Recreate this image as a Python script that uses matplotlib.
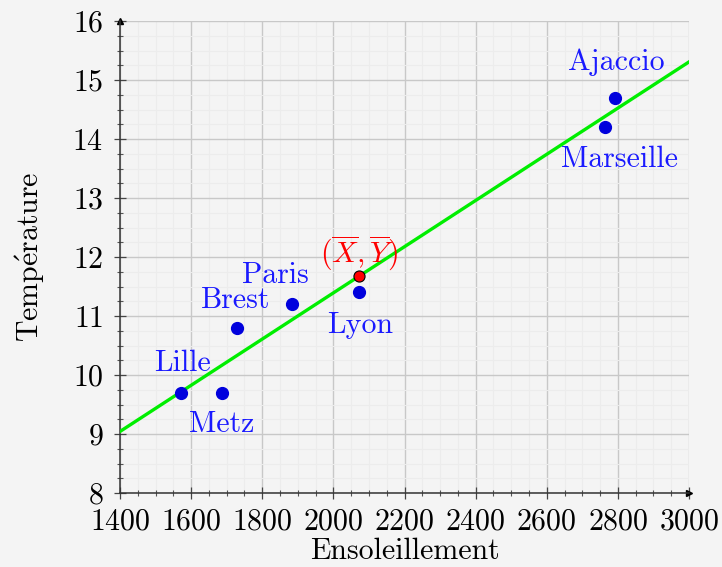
import matplotlib.pyplot as plt
import numpy as np
from matplotlib.ticker import MultipleLocator

plt.rcParams['font.family'] = ['cmr10', 'DejaVu Serif']
plt.rcParams['mathtext.fontset'] = 'cm'
plt.rcParams['axes.formatter.use_mathtext'] = True

# ensoleillement (h/an) et temperature moyenne
villes = ['Lille', 'Metz', 'Brest', 'Paris', 'Lyon', 'Marseille', 'Ajaccio']
soleil = [1572, 1687, 1729, 1884, 2072, 2764, 2792]
temp = [9.7, 9.7, 10.8, 11.2, 11.4, 14.2, 14.7]
# decalage des etiquettes (pixels)
decal = [(1, 29), (0, -32), (-1, 28), (-17, 29), (1, -33), (14, -32), (1, 35)]

x = np.array(soleil)
y = np.array(temp)
a, b = np.polyfit(x, y, 1)
xm, ym = x.mean(), y.mean()

fs = 21.5
bg = '#f4f4f4'
fig = plt.figure(figsize=(7.22, 5.67), dpi=100, facecolor=bg)
ax = fig.add_axes([120/722, 74/567, 569/722, 472/567])
ax.set_facecolor(bg)

ax.set_xlim(1400, 3000)
ax.set_ylim(8, 16)
ax.xaxis.set_major_locator(MultipleLocator(200))
ax.xaxis.set_minor_locator(MultipleLocator(50))
ax.yaxis.set_major_locator(MultipleLocator(1))
ax.yaxis.set_minor_locator(MultipleLocator(0.25))
ax.grid(which='major', color='#c8c8c8', lw=1.0)
ax.grid(which='minor', color='#ececec', lw=0.8)
ax.set_axisbelow(True)

for s in ['top', 'right']:
    ax.spines[s].set_visible(False)
for s in ['left', 'bottom']:
    ax.spines[s].set_color('#333333')
    ax.spines[s].set_linewidth(1.1)
ax.tick_params(which='major', direction='inout', length=8, width=0.9, labelsize=fs, colors='#444444', labelcolor='black')
ax.tick_params(axis='x', which='major', pad=7)
ax.tick_params(axis='y', which='major', pad=8)
ax.tick_params(which='minor', direction='inout', length=5, width=0.8, colors='#555555')
ax.plot(1, 0, '>', color='black', ms=5, transform=ax.transAxes, clip_on=False)
ax.plot(0, 1, '^', color='black', ms=5, transform=ax.transAxes, clip_on=False)

xx = np.array([1400, 3000])
ax.plot(xx, a * xx + b, color='#00ee00', lw=2.4, zorder=3)
ax.plot(x, y, 'o', color='#0000dd', ms=8.5, zorder=4)
ax.plot(xm, ym, 'o', color='red', mec='black', mew=0.8, ms=8, zorder=5)

for v, sx, ty, d in zip(villes, soleil, temp, decal):
    ax.annotate(v, (sx, ty), xytext=d, textcoords='offset pixels',
                ha='center', va='center', color='#1a1aff', fontsize=fs)
ax.annotate(r'$(\overline{X},\overline{Y})$', (xm, ym), xytext=(0, 24),
            textcoords='offset pixels', ha='center', va='center', color='red', fontsize=fs)

ax.set_xlabel('Ensoleillement', fontsize=fs, labelpad=1.5)
ax.set_ylabel(r'$\mathrm{Temp\acute{e}rature}$', fontsize=fs, labelpad=18)

plt.savefig('out.png', dpi=100, facecolor=bg)
